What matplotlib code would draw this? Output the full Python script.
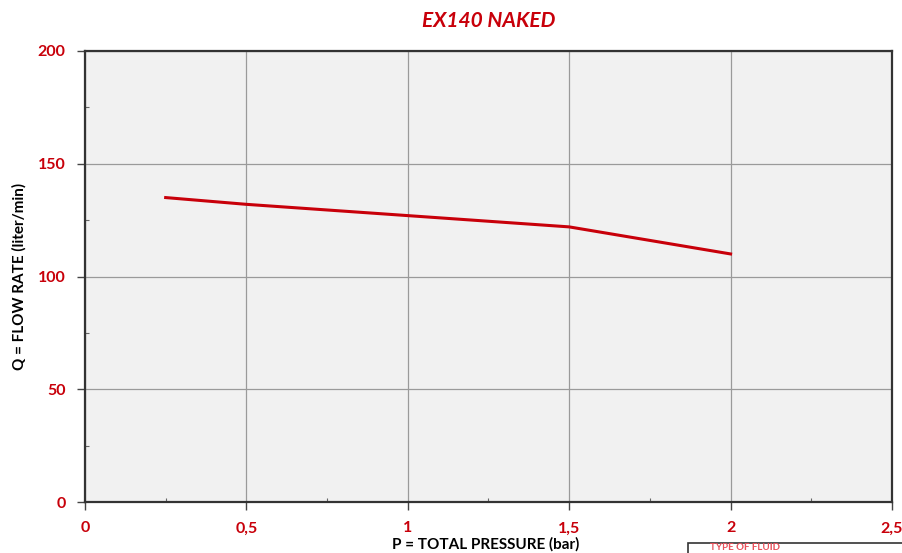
import matplotlib
matplotlib.use('Agg')
import matplotlib.pyplot as plt
from matplotlib.patches import Rectangle

pressure = [0.25, 0.5, 1.0, 1.5, 2.0]
flow = [135, 132, 127, 122, 110]
x_ticks = [0, 0.5, 1, 1.5, 2, 2.5]
x_labels = ['0', '0,5', '1', '1,5', '2', '2,5']
y_ticks = [0, 50, 100, 150, 200]

red = '#c8000a'
plt.rcParams['font.family'] = ['Lato', 'DejaVu Sans']

fig = plt.figure(figsize=(9.03, 5.53), dpi=100)
ax = fig.add_axes([0.0941, 0.0922, 0.8937, 0.8156])
ax.set_facecolor('#f1f1f1')

ax.plot(pressure, flow, color=red, lw=2.2, zorder=3)

ax.set_xlim(0, 2.5)
ax.set_ylim(0, 200)
ax.set_xticks(x_ticks)
ax.set_xticklabels(x_labels)
ax.set_yticks(y_ticks)
ax.set_xticks([0.25, 0.75, 1.25, 1.75, 2.25], minor=True)
ax.set_yticks([25, 75, 125, 175], minor=True)
ax.grid(True, which='major', color='#9a9a9a', lw=0.9)
ax.set_axisbelow(True)

ax.tick_params(which='major', direction='out', length=6, width=1, color='#444444',
               labelcolor=red, labelsize=11.5, pad=8)
ax.tick_params(which='minor', direction='in', length=3, width=0.8, color='#666666')
for lab in ax.get_xticklabels() + ax.get_yticklabels():
    lab.set_fontweight('bold')

for s in ax.spines.values():
    s.set_color('#333333')
    s.set_linewidth(1.6)

ax.set_title('EX140 NAKED', color=red, fontsize=15, fontweight='bold', style='italic', pad=17)
ax.set_ylabel('Q = FLOW RATE (liter/min)', fontsize=11, fontweight='bold', labelpad=8)
fig.text(0.538, 0.003, 'P = TOTAL PRESSURE (bar)', ha='center', va='bottom',
         fontsize=11, fontweight='bold')

# legend box at the bottom edge
fig.patches.append(Rectangle((688 / 903, -0.05), 0.3, 0.068, transform=fig.transFigure,
                             fill=False, edgecolor='#333333', lw=1.2))
fig.text(710 / 903, 0.002, 'TYPE OF FLUID', color='#e8505a', fontsize=7,
         fontweight='bold', va='bottom')

fig.savefig('out.png', dpi=100)
